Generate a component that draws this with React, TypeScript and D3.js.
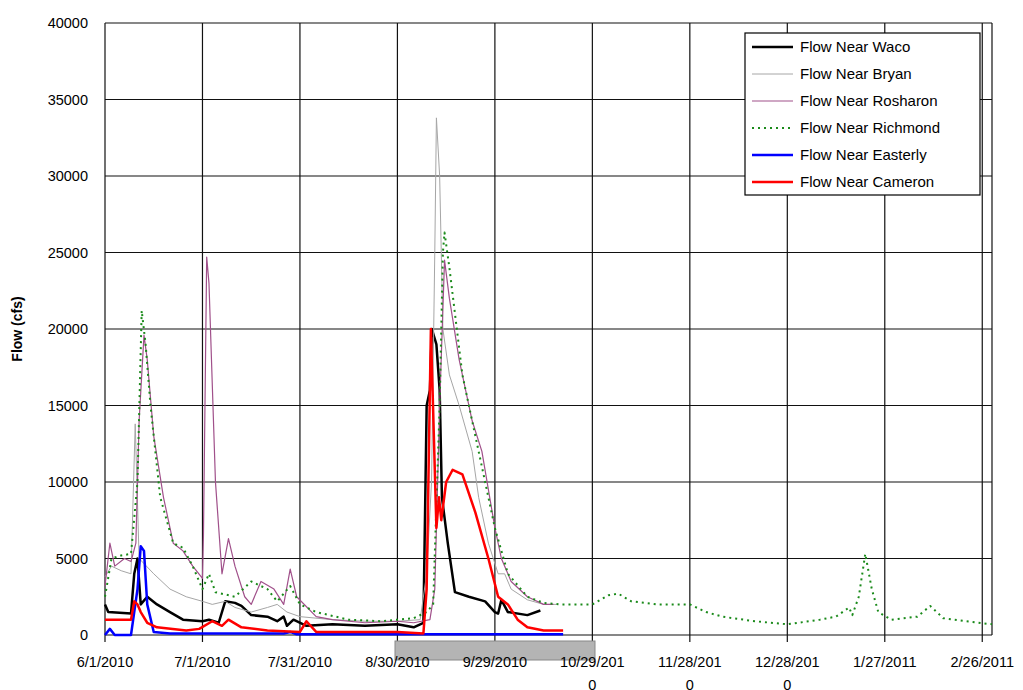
import React from "react";
import * as d3 from "d3";

const yTicks = [0, 5000, 10000, 15000, 20000, 25000, 30000, 35000, 40000];
const xTickLabels = [["6/1/2010"], ["7/1/2010"], ["7/31/2010"], ["8/30/2010"], ["9/29/2010"], ["10/29/201", "0"], ["11/28/201", "0"], ["12/28/201", "0"], ["1/27/2011"], ["2/26/2011"]];

// [day offset from 6/1/2010, flow cfs]
const waco: [number, number][] = [[0,2000],[1,1500],[8,1400],[9,4000],[10,5000],[11,2000],[13,2500],[16,2000],[20,1500],[24,1000],[30,900],[32,1000],[35,800],[37,2200],[40,2100],[42,1900],[45,1300],[50,1200],[53,900],[55,1200],[56,600],[58,1000],[62,600],[70,700],[80,600],[90,700],[95,500],[98,800],[99,15000],[100,16000],[100.6,20000],[102,19000],[103,16000],[103.7,9000],[105.5,6000],[107.7,2800],[112,2500],[117,2200],[120,1500],[121,1400],[122,2300],[124,1500],[130,1300],[134,1600]];
const bryan: [number, number][] = [[0,3800],[2,4500],[5,4200],[8,4000],[9.3,13800],[10.5,5000],[15,4000],[20,3000],[25,2500],[30,2200],[33,2000],[37,2200],[40,1800],[45,1500],[50,1800],[53,2000],[56,1500],[60,1200],[70,1000],[80,900],[90,900],[97,1000],[99,4000],[100.5,10000],[101.5,25000],[102,33800],[103,30000],[104,20000],[106,17000],[109,15000],[113,12000],[115,9000],[118,6000],[121,4000],[123,4000],[125,3000],[130,2300],[135,2000],[139,2000]];
const rosharon: [number, number][] = [[0,3200],[1.5,6000],[3,4500],[6,5000],[8,4800],[9.5,6000],[10.5,14000],[12,19600],[13,18000],[15,13000],[18,9000],[21,6000],[24,5500],[27,4500],[30,3700],[30.3,6500],[31.3,24700],[32,23000],[34,10000],[36,4000],[38,6300],[40,4500],[43,2500],[45,2000],[48,3500],[52,3000],[55,2000],[57,4300],[59,2500],[65,1200],[70,1000],[80,800],[90,900],[95,800],[100,1000],[101.5,3000],[103,15000],[104.5,24500],[106,22000],[109,18000],[113,14000],[116,12000],[120,7000],[122,5000],[125,3500],[130,2500],[135,2000],[138,2000]];
const richmond: [number, number][] = [[0,2500],[2,5000],[5,5200],[8,5300],[10,10000],[11.3,21200],[12.5,19000],[14,15000],[17,9000],[21,6000],[24,5700],[27,4500],[30,3000],[32,4000],[34,2800],[40,2500],[45,3500],[50,3000],[53,2200],[57,3200],[60,2000],[65,1500],[75,1000],[85,900],[95,1100],[99,1500],[101,2000],[103,15000],[104,25000],[104.5,26300],[106,24000],[110,17000],[114,13000],[120,7000],[124,4000],[130,2500],[135,2100],[140,2000],[150,2000],[155,2600],[158,2700],[162,2200],[170,2000],[180,2000],[185,1500],[190,1200],[200,900],[210,700],[220,1000],[225,1200],[229,1800],[230,1300],[232,2500],[234,5300],[236,3000],[238,1500],[242,1000],[250,1200],[254,1900],[258,1100],[265,900],[273,700]];
const easterly: [number, number][] = [[0,0],[1.5,400],[3,0],[8,0],[10,3000],[11,5800],[12,5500],[13,2000],[15,200],[20,100],[55,100],[57,200],[59,50],[141,50]];
const cameron: [number, number][] = [[0,1000],[8,1000],[9,2200],[10,2000],[11,1500],[13,800],[16,500],[25,300],[29,400],[33,900],[36,600],[38,1000],[42,500],[50,300],[60,200],[62,900],[65,200],[90,200],[98,100],[99,3000],[100.3,20000],[102,7000],[102.8,9000],[103.5,7500],[105,10000],[107,10800],[110,10500],[114,8000],[118,5000],[121,2500],[124,2000],[127,1000],[130,500],[135,300],[141,300]];

const seriesNames = ["Flow Near Waco", "Flow Near Bryan", "Flow Near Rosharon", "Flow Near Richmond", "Flow Near Easterly", "Flow Near Cameron"];
const seriesData = [waco, bryan, rosharon, richmond, easterly, cameron];
const styles = [
  { c: "#000", w: 2.5, dash: "" },
  { c: "#a6a6a6", w: 1, dash: "" },
  { c: "#a0508a", w: 1.2, dash: "" },
  { c: "#1a8a1a", w: 2, dash: "2,4" },
  { c: "#0000ff", w: 2.5, dash: "" },
  { c: "#ff0000", w: 2.5, dash: "" },
];

export default function App() {
  const L = 105, R = 992, T = 23, B = 635;
  const x = d3.scaleLinear().domain([0, 273]).range([L, R]);
  const y = d3.scaleLinear().domain([0, 40000]).range([B, T]);
  const line = d3.line<[number, number]>().x(d => x(d[0])).y(d => y(d[1]));
  const font = "Arial, 'Liberation Sans', sans-serif";
  return (
    <svg width={1023} height={690} style={{ position: "absolute", left: 0, top: 0 }} fontFamily={font}>
      <rect width={1023} height={690} fill="#fff" />
      {yTicks.map(t => <line key={t} x1={L} x2={R} y1={y(t)} y2={y(t)} stroke="#111" strokeWidth={1.2} />)}
      {xTickLabels.map((_, i) => <line key={i} x1={x(i * 30)} x2={x(i * 30)} y1={T} y2={B + 7} stroke="#111" strokeWidth={1.2} />)}
      <line x1={R} x2={R} y1={T} y2={B} stroke="#111" strokeWidth={1.2} />
      {yTicks.map(t => <text key={t} x={88} y={y(t) + 5} textAnchor="end" fontSize={14.5} fill="#000">{t}</text>)}
      <text transform="translate(22,329) rotate(-90)" textAnchor="middle" fontSize={14} fontWeight="bold">Flow (cfs)</text>
      {seriesData.map((d, i) => <path key={i} d={line(d) || ""} fill="none" stroke={styles[i].c} strokeWidth={styles[i].w} strokeDasharray={styles[i].dash} strokeLinejoin="round" />)}
      <rect x={395} y={641} width={200} height={19} fill="#b4b4b4" stroke="#888" />
      {xTickLabels.map((lab, i) => lab.map((s, j) => <text key={i + "-" + j} x={x(i * 30)} y={667 + j * 23} textAnchor="middle" fontSize={14.5} fill="#000">{s}</text>))}
      <rect x={745} y={33} width={235} height={162} fill="#fff" stroke="#000" strokeWidth={1.2} />
      {seriesNames.map((n, i) => (
        <g key={n}>
          <line x1={752} x2={793} y1={47 + i * 27} y2={47 + i * 27} stroke={styles[i].c} strokeWidth={styles[i].w} strokeDasharray={styles[i].dash} />
          <text x={800} y={52 + i * 27} fontSize={15} fill="#000">{n}</text>
        </g>
      ))}
    </svg>
  );
}
